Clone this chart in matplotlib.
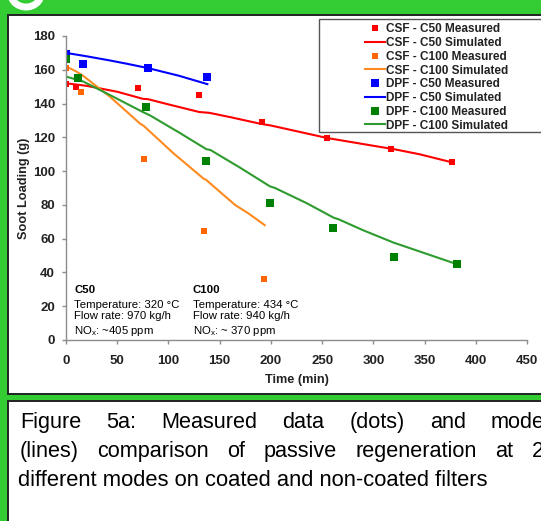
import numpy as np
import matplotlib
matplotlib.use('Agg')
import matplotlib.pyplot as plt
from matplotlib.patches import Rectangle, Ellipse
from matplotlib.lines import Line2D

plt.rcParams['font.family'] = ['Liberation Sans', 'DejaVu Sans']

# Measured data (dots)
csf_c50_t = [0, 10, 70, 130, 191, 255, 317, 377]
csf_c50_m = [151.4, 149.6, 149.4, 145, 129, 119.6, 113, 105.2]
csf_c100_t = [0, 15, 76, 135, 193]
csf_c100_m = [160.8, 147, 107, 64.7, 36.1]
dpf_c50_t = [0, 17, 80, 138]
dpf_c50_m = [169.1, 163.4, 161.2, 155.9]
dpf_c100_t = [0, 12, 78, 137, 199, 261, 320, 382]
dpf_c100_m = [166.4, 155.1, 138.1, 106, 81.3, 66.1, 49.1, 44.8]

# Simulated data (lines)
csf_c50_st = [0, 20, 50, 75, 80, 100, 130, 140, 160, 190, 200, 255, 300, 320, 345, 378]
csf_c50_s = [152, 150.5, 147, 142.8, 142.6, 139.5, 135, 134.5, 132, 128, 127, 119.6, 115, 113, 110, 105]
csf_c100_st = [0, 10, 17, 43, 72, 76, 105, 134, 137, 165, 178, 194]
csf_c100_s = [162, 159, 156.3, 144, 128.3, 126.7, 110.5, 95.7, 94.7, 80, 75, 68]
dpf_c50_st = [0, 20, 43, 60, 80, 110, 138]
dpf_c50_s = [170, 168, 165.5, 163.5, 161, 156.5, 151.5]
dpf_c100_st = [0, 17, 43, 75, 82, 110, 137, 141, 170, 199, 204, 235, 261, 266, 290, 320, 324, 382]
dpf_c100_s = [156, 153, 145, 135, 133, 123, 113, 112.5, 102, 91, 90, 81, 72.5, 71.5, 65, 57.6, 56.8, 44.8]

labels = ['CSF - C50 Measured', 'CSF - C50 Simulated', 'CSF - C100 Measured', 'CSF - C100 Simulated',
          'DPF - C50 Measured', 'DPF - C50 Simulated', 'DPF - C100 Measured', 'DPF - C100 Simulated']

# caption: first two lines justified (first/last word start kept), last line plain
caption1 = ['Figure', '5a:', 'Measured', 'data', '(dots)', 'and', 'model']
caption2 = ['(lines)', 'comparison', 'of', 'passive', 'regeneration', 'at', '2']
caption1_span = (20, 491)
caption2_span = (20, 532)
caption3 = 'different modes on coated and non-coated filters'

W, H = 541, 521
green = '#33CC33'
c_red = '#FF0000'
c_orange_m = '#FF6600'
c_orange_l = '#FF8A1F'
c_blue = '#0000FF'
c_green_m = '#008000'
c_green_l = '#2E9B2E'

def fx(px):
    return px / W

def fy(py):
    return 1 - py / H

fig = plt.figure(figsize=(W / 100, H / 100), dpi=100, facecolor=green)

# white panels with black border
fig.add_artist(Rectangle((fx(8), fy(394)), fx(560 - 8), (394 - 15) / H, transform=fig.transFigure,
                         facecolor='white', edgecolor='#222222', lw=1.4, zorder=-5))
fig.add_artist(Rectangle((fx(8), fy(560)), fx(560 - 8), (560 - 401) / H, transform=fig.transFigure,
                         facecolor='white', edgecolor='#222222', lw=1.4, zorder=-5))
# piece of the panel letter cut at the top
fig.add_artist(Ellipse((fx(26), fy(-6)), fx(30), 26 / H, transform=fig.transFigure,
                       facecolor='none', edgecolor='white', lw=5, zorder=-4))

ax = fig.add_axes([fx(66), fy(340), fx(527 - 66), (340 - 36) / H])
ax.set_facecolor('none')

ax.plot(csf_c50_st, csf_c50_s, color=c_red, lw=1.5)
ax.plot(csf_c100_st, csf_c100_s, color=c_orange_l, lw=1.5)
ax.plot(dpf_c50_st, dpf_c50_s, color=c_blue, lw=1.5)
ax.plot(dpf_c100_st, dpf_c100_s, color=c_green_l, lw=1.5)
ax.plot(csf_c50_t, csf_c50_m, 's', color=c_red, ms=4.3, mew=0)
ax.plot(csf_c100_t, csf_c100_m, 's', color=c_orange_m, ms=4.3, mew=0)
ax.plot(dpf_c50_t, dpf_c50_m, 's', color=c_blue, ms=5.8, mew=0)
ax.plot(dpf_c100_t, dpf_c100_m, 's', color=c_green_m, ms=5.8, mew=0)

ax.set_xlim(0, 450)
ax.set_ylim(0, 180)
ax.set_xticks(np.arange(0, 451, 50))
ax.set_yticks(np.arange(0, 181, 20))
for s in ['top', 'right']:
    ax.spines[s].set_visible(False)
for s in ['left', 'bottom']:
    ax.spines[s].set_color('#8c8c8c')
    ax.spines[s].set_linewidth(1.0)
ax.tick_params(axis='both', colors='#8c8c8c', length=3, width=1.0, labelsize=9.5, labelcolor='#222222')
ax.tick_params(axis='x', pad=7.5)
ax.tick_params(axis='y', pad=5)
for lab in ax.get_xticklabels() + ax.get_yticklabels():
    lab.set_fontweight('bold')

ax.set_xlabel('Time (min)', fontsize=9.2, fontweight='bold', color='#222222')
ax.set_ylabel('Soot Loading (g)', fontsize=9.2, fontweight='bold', color='#222222')
ax.xaxis.set_label_coords(0.5, -0.112)
ax.yaxis.set_label_coords(-0.0775, 0.5)

# operating conditions
ax.text(8, 29.6, 'C50', fontsize=8.2, fontweight='bold', va='center')
ax.text(8, 21, 'Temperature: 320 °C', fontsize=8.2, va='center')
ax.text(8, 14.2, 'Flow rate: 970 kg/h', fontsize=8.2, va='center')
ax.text(8, 5.3, r'NO$_\mathregular{x}$: ~405 ppm', fontsize=8.2, va='center')
ax.text(123.6, 29.6, 'C100', fontsize=8.2, fontweight='bold', va='center')
ax.text(123.6, 21, 'Temperature: 434 °C', fontsize=8.2, va='center')
ax.text(123.6, 14.2, 'Flow rate: 940 kg/h', fontsize=8.2, va='center')
ax.text(123.6, 5.3, r'NO$_\mathregular{x}$: ~ 370 ppm', fontsize=8.2, va='center')

# legend
handles = [
    Line2D([], [], ls='none', marker='s', color=c_red, ms=4, mew=0),
    Line2D([], [], color=c_red, lw=1.5),
    Line2D([], [], ls='none', marker='s', color=c_orange_m, ms=4, mew=0),
    Line2D([], [], color=c_orange_l, lw=1.5),
    Line2D([], [], ls='none', marker='s', color=c_blue, ms=5.5, mew=0),
    Line2D([], [], color=c_blue, lw=1.5),
    Line2D([], [], ls='none', marker='s', color=c_green_m, ms=5.5, mew=0),
    Line2D([], [], color=c_green_l, lw=1.5),
]
fig.add_artist(Rectangle((fx(319), fy(132)), fx(560 - 319), (132 - 19) / H, transform=fig.transFigure,
                         facecolor='white', edgecolor='#555555', lw=1.0, zorder=1))
leg = fig.legend(handles, labels, loc='upper left', bbox_to_anchor=(fx(365), fy(23.2)),
                 frameon=False, borderpad=0, borderaxespad=0, handlelength=1.7, handletextpad=0.1,
                 labelspacing=0.15, prop={'size': 8.5, 'weight': 'bold'})
leg.set_zorder(2)
for t in leg.get_texts():
    t.set_color('#222222')

# caption, justified word by word
renderer = fig.canvas.get_renderer()
for words, (x0, x1), y in [(caption1, caption1_span, 422.7), (caption2, caption2_span, 451.7)]:
    texts = [fig.text(0, fy(y), w, fontsize=15.6, va='center', ha='left') for w in words]
    widths = [t.get_window_extent(renderer).width for t in texts]
    gap = (x1 - x0 - sum(widths[:-1])) / (len(words) - 1)
    x = x0
    for t, wd in zip(texts, widths):
        t.set_x(fx(x))
        x += wd + gap
fig.text(fx(18.5), fy(480), caption3, fontsize=15.8, va='center', ha='left')

fig.savefig('out.png', dpi=100, facecolor=green)
